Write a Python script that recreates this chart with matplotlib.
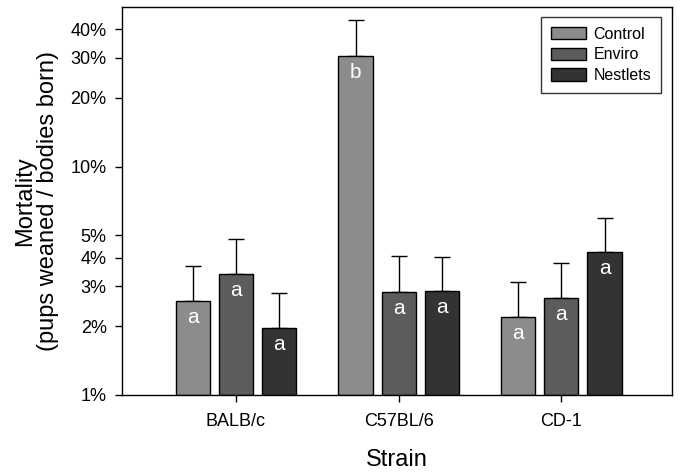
import numpy as np
import matplotlib
matplotlib.use("Agg")
import matplotlib.pyplot as plt
from matplotlib.ticker import FixedLocator, FixedFormatter, NullLocator

plt.rcParams['font.family'] = ['Liberation Sans', 'DejaVu Sans']

strains = ["BALB/c", "C57BL/6", "CD-1"]
groups = ["Control", "Enviro", "Nestlets"]

# mortality in %
control = [2.58, 30.5, 2.19]
enviro = [3.39, 2.83, 2.66]
nestlets = [1.97, 2.86, 4.21]

# upper end of error bars (%)
control_hi = [3.68, 44.1, 3.11]
enviro_hi = [4.80, 4.08, 3.77]
nestlets_hi = [2.81, 4.04, 5.98]

letters = [["a", "b", "a"], ["a", "a", "a"], ["a", "a", "a"]]

colors = ["#8c8c8c", "#5c5c5c", "#333333"]
yticks = [1, 2, 3, 4, 5, 10, 20, 30, 40]

fig = plt.figure(figsize=(6.83, 4.73), dpi=100)
ax = fig.add_axes([0.1786, 0.165, 0.984 - 0.1786, 0.985 - 0.165])

x = np.arange(len(strains))
step = 0.265
width = 0.21
vals = [control, enviro, nestlets]
his = [control_hi, enviro_hi, nestlets_hi]

for i, (v, hi) in enumerate(zip(vals, his)):
    xs = x + (i - 1) * step
    v = np.array(v)
    err = np.array(hi) - v
    ax.bar(xs, v - 1, bottom=1, width=width, color=colors[i], edgecolor="black",
           linewidth=1, label=groups[i], zorder=2)
    ax.errorbar(xs, v, yerr=[np.zeros_like(err), err], fmt="none", ecolor="black",
                elinewidth=1, capsize=6, capthick=1, zorder=1)
    for xi, vi, lab in zip(xs, v, letters[i]):
        ax.annotate(lab, (xi, vi), xytext=(0, -5), textcoords="offset points",
                    ha="center", va="top", color="white", fontsize=15, zorder=3)

ax.set_yscale("log")
ax.set_ylim(1, 50)
ax.set_xlim(-0.70, 2.68)
ax.yaxis.set_major_locator(FixedLocator(yticks))
ax.yaxis.set_major_formatter(FixedFormatter([f"{t}%" for t in yticks]))
ax.yaxis.set_minor_locator(NullLocator())
ax.set_xticks(x)
ax.set_xticklabels(strains)
ax.tick_params(axis="both", direction="out", length=5, width=1, labelsize=13)
ax.tick_params(axis="x", pad=8)
ax.tick_params(axis="y", pad=6)
for s in ax.spines.values():
    s.set_linewidth(1)

ax.set_xlabel("Strain", fontsize=17, labelpad=14)
ax.set_ylabel("Mortality\n(pups weaned / bodies born)", fontsize=17, labelpad=8,
              linespacing=1.1)

leg = ax.legend(loc="upper right", bbox_to_anchor=(0.98, 0.974), fontsize=11.5,
                frameon=True, fancybox=False, edgecolor="black", handlelength=2.2,
                handleheight=0.8, handletextpad=0.5, labelspacing=0.35,
                borderpad=0.6, borderaxespad=0)
leg.get_frame().set_linewidth(1)

fig.savefig("out.png", dpi=100)
